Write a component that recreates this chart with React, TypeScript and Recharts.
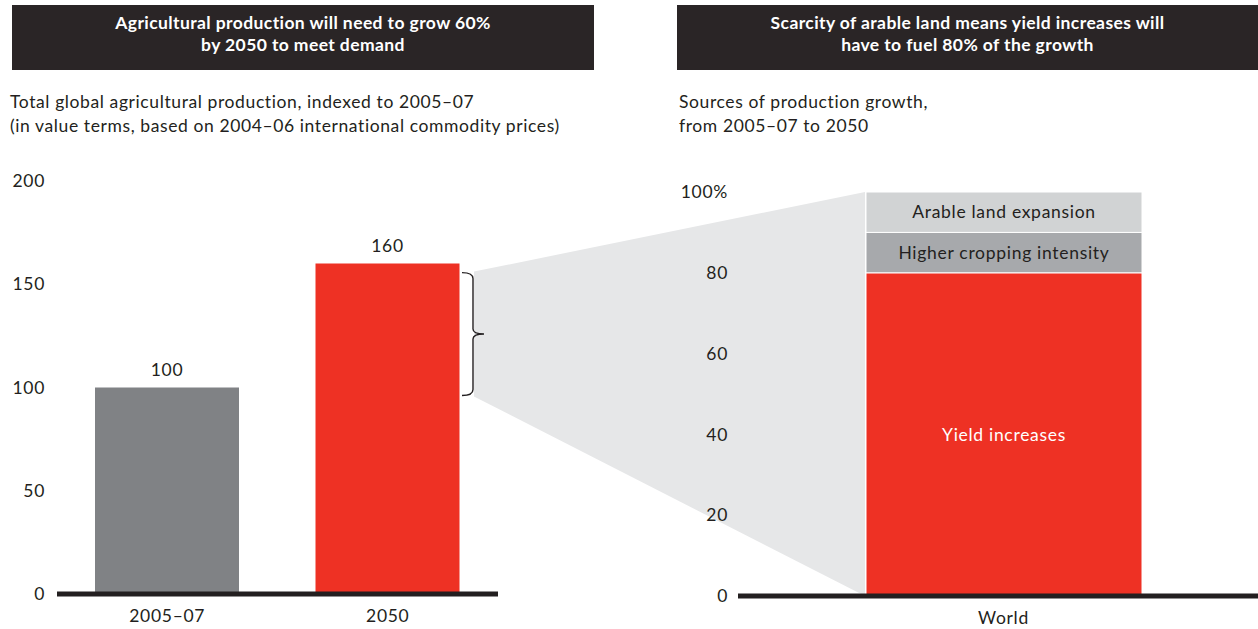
import React from "react";
import { BarChart, Bar, XAxis, YAxis, LabelList, Cell } from "recharts";

// Total global agricultural production, indexed to 2005–07
const periods = ["2005–07", "2050"];
const productionIndex = [100, 160];
const productionTicks = [0, 50, 100, 150, 200];

// Sources of production growth, 2005–07 to 2050 (% of growth)
const regions = ["World"];
const yieldShare = [80];
const croppingShare = [10];
const landShare = [10];
const shareTicks = [0, 20, 40, 60, 80, 100];

const INK = "#231f20";
const FONT = "Lato, 'Open Sans', sans-serif";
const BAR_COLORS = ["#808285", "#ee3124"];

// plot frames shared by the charts and the connector layer
const LEFT = { x: 0, width: 520, top: 181, bottom: 594, axisW: 57, plotRight: 498, max: 200 };
const RIGHT = { x: 660, width: 609, top: 192, bottom: 596, axisW: 78, max: 100 };
const X_AXIS_H = 30;

const leftY = (v: number) => LEFT.bottom - (v / LEFT.max) * (LEFT.bottom - LEFT.top);
const rightY = (v: number) => RIGHT.bottom - (v / RIGHT.max) * (RIGHT.bottom - RIGHT.top);

const productionData = periods.map((p, i) => ({ period: p, value: productionIndex[i] }));
const shareData = regions.map((r, i) => ({
  region: r,
  yield: yieldShare[i],
  cropping: croppingShare[i],
  land: landShare[i],
}));

const tickStyle = { fill: INK, fontSize: 17.5, fontFamily: FONT, letterSpacing: 0.7 };

function Header({ left, width, lines }: { left: number; width: number; lines: string[] }) {
  return (
    <div
      style={{
        position: "absolute",
        left,
        top: 5,
        width,
        height: 65,
        background: "#2a2526",
        color: "#fff",
        fontFamily: FONT,
        fontWeight: 700,
        fontSize: 17.5,
        letterSpacing: 0.4,
        lineHeight: "22px",
        textAlign: "center",
        boxSizing: "border-box",
        paddingTop: 7,
      }}
    >
      {lines.map((l) => (
        <div key={l}>{l}</div>
      ))}
    </div>
  );
}

function Subtitle({ left, lines }: { left: number; lines: string[] }) {
  return (
    <div
      style={{
        position: "absolute",
        left,
        top: 90,
        color: INK,
        fontFamily: FONT,
        fontSize: 17.5,
        letterSpacing: 0.6,
        lineHeight: "24px",
        whiteSpace: "nowrap",
      }}
    >
      {lines.map((l) => (
        <div key={l}>{l}</div>
      ))}
    </div>
  );
}

// grey wedge linking the 100→160 increase to the breakdown bar, plus the brace
function Connector() {
  const braceX = 473;
  const top = leftY(productionIndex[1]) + 9;
  const bottom = leftY(productionIndex[0]) + 8;
  const mid = (top + bottom) / 2;
  const barLeft = 865;
  const brace = [
    `M ${braceX - 11} ${top}`,
    `Q ${braceX} ${top} ${braceX} ${top + 6}`,
    `L ${braceX} ${mid - 5}`,
    `Q ${braceX} ${mid} ${braceX + 11} ${mid}`,
    `Q ${braceX} ${mid} ${braceX} ${mid + 5}`,
    `L ${braceX} ${bottom - 6}`,
    `Q ${braceX} ${bottom} ${braceX - 11} ${bottom}`,
  ].join(" ");
  return (
    <svg width={1258} height={629} style={{ position: "absolute", left: 0, top: 0 }}>
      <polygon
        points={`${braceX + 1},${top - 1} ${barLeft},${rightY(100)} ${barLeft},${rightY(0)} ${braceX + 1},${bottom + 1}`}
        fill="#e6e7e8"
      />
      <path d={brace} fill="none" stroke={INK} strokeWidth={1.4} />
    </svg>
  );
}

export default function App() {
  return (
    <div
      style={{
        position: "fixed",
        left: 0,
        top: 0,
        width: 1258,
        height: 629,
        overflow: "hidden",
        background: "#fff",
      }}
    >
      <Connector />

      <Header
        left={12}
        width={582}
        lines={["Agricultural production will need to grow 60%", "by 2050 to meet demand"]}
      />
      <Header
        left={677}
        width={581}
        lines={["Scarcity of arable land means yield increases will", "have to fuel 80% of the growth"]}
      />
      <Subtitle
        left={10}
        lines={[
          "Total global agricultural production, indexed to 2005–07",
          "(in value terms, based on 2004–06 international commodity prices)",
        ]}
      />
      <Subtitle left={679} lines={["Sources of production growth,", "from 2005–07 to 2050"]} />

      <div style={{ position: "absolute", left: LEFT.x, top: 0 }}>
        <BarChart
          width={LEFT.width}
          height={629}
          data={productionData}
          margin={{ top: LEFT.top, bottom: 629 - LEFT.bottom - X_AXIS_H, left: 0, right: LEFT.width - LEFT.plotRight }}
        >
          <XAxis
            dataKey="period"
            height={X_AXIS_H}
            axisLine={{ stroke: INK, strokeWidth: 5 }}
            tickLine={false}
            tickSize={0}
            tickMargin={16}
            tick={tickStyle}
          />
          <YAxis
            width={LEFT.axisW}
            domain={[0, LEFT.max]}
            ticks={productionTicks}
            axisLine={false}
            tickLine={false}
            tickSize={0}
            tickMargin={12}
            tick={tickStyle}
          />
          <Bar dataKey="value" barSize={144} isAnimationActive={false}>
            {productionData.map((d, i) => (
              <Cell key={d.period} fill={BAR_COLORS[i]} />
            ))}
            <LabelList dataKey="value" position="top" offset={12} style={tickStyle} />
          </Bar>
        </BarChart>
      </div>

      <div style={{ position: "absolute", left: RIGHT.x, top: 0 }}>
        <BarChart
          width={RIGHT.width}
          height={629}
          data={shareData}
          margin={{ top: RIGHT.top, bottom: 629 - RIGHT.bottom - X_AXIS_H, left: 0, right: 0 }}
        >
          <XAxis
            dataKey="region"
            height={X_AXIS_H}
            axisLine={{ stroke: INK, strokeWidth: 5 }}
            tickLine={false}
            tickSize={0}
            tickMargin={16}
            tick={tickStyle}
          />
          <YAxis
            width={RIGHT.axisW}
            domain={[0, RIGHT.max]}
            ticks={shareTicks}
            tickFormatter={(v: number) => (v === 100 ? "100%" : String(v))}
            axisLine={false}
            tickLine={false}
            tickSize={0}
            tickMargin={10}
            tick={tickStyle}
          />
          <Bar dataKey="yield" stackId="s" barSize={276} fill="#ee3124" stroke="#fff" strokeWidth={1} isAnimationActive={false}>
            <LabelList
              dataKey="region"
              position="center"
              formatter={() => "Yield increases"}
              style={{ ...tickStyle, fill: "#fff" }}
            />
          </Bar>
          <Bar dataKey="cropping" stackId="s" barSize={276} fill="#a7a9ac" stroke="#fff" strokeWidth={1} isAnimationActive={false}>
            <LabelList dataKey="region" position="center" formatter={() => "Higher cropping intensity"} style={tickStyle} />
          </Bar>
          <Bar dataKey="land" stackId="s" barSize={276} fill="#d1d3d4" stroke="#fff" strokeWidth={1} isAnimationActive={false}>
            <LabelList dataKey="region" position="center" formatter={() => "Arable land expansion"} style={tickStyle} />
          </Bar>
        </BarChart>
      </div>
    </div>
  );
}
